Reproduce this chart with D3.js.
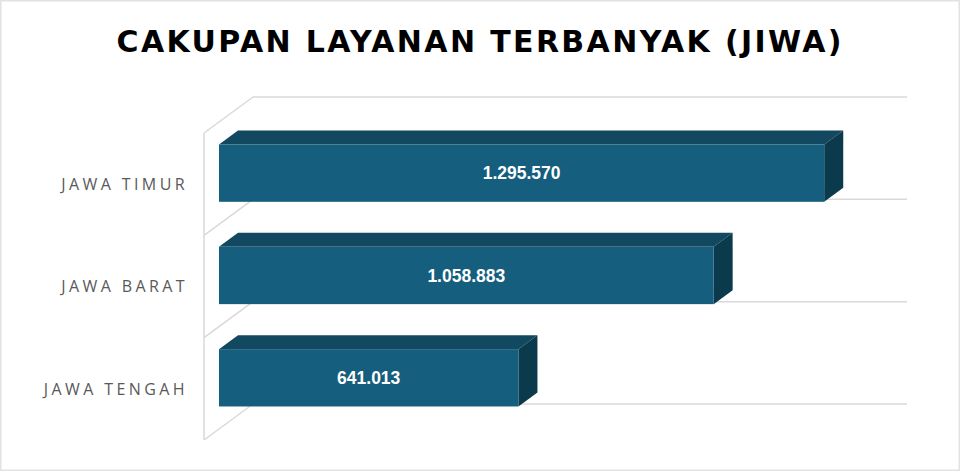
<!DOCTYPE html>
<html lang="id">
<head>
  <meta charset="UTF-8">
  <title>Cakupan Layanan Terbanyak</title>
  <script src="https://d3js.org/d3.v7.min.js"></script>
  <style>
    html, body { margin: 0; padding: 0; background: #fff; }
  </style>
</head>
<body>
  <svg id="chart" width="960" height="471"></svg>

  <script>
    // data
    const provinces = ["JAWA TIMUR", "JAWA BARAT", "JAWA TENGAH"];
    const jiwa = [1295570, 1058883, 641013];
    const valueLabels = ["1.295.570", "1.058.883", "641.013"];
    const titleText = "CAKUPAN LAYANAN TERBANYAK (JIWA)";

    const svg = d3.select("#chart");

    // frame round the picture
    svg.append("rect")
      .attr("x", 0.75).attr("y", 0.75)
      .attr("width", 958.5).attr("height", 469.5)
      .attr("fill", "#fff")
      .attr("stroke", "#e2e2e2")
      .attr("stroke-width", 1.5);

    // 3d box: front plane origin, depth offset
    const ox = 204, oy = 133;
    const depthX = 49, depthY = -36;
    const zFront = 0.306, zBack = 0.694;

    const x = d3.scaleLinear().domain([0, 1400000]).range([0, 654]);
    const y = d3.scaleBand().domain(provinces).range([0, 307])
      .paddingInner(0.44).paddingOuter(0.22);

    const px = (xv, z) => ox + xv + z * depthX;
    const py = (yv, z) => oy + yv + z * depthY;

    const grid = svg.append("g")
      .attr("fill", "none")
      .attr("stroke", "#d9d9d9")
      .attr("stroke-width", 1.5);

    const bounds = d3.range(provinces.length + 1).map(i => i * y.step());

    // back wall lines
    grid.selectAll(".back").data(bounds).join("line")
      .attr("x1", px(0, 1)).attr("x2", px(x(1400000), 1))
      .attr("y1", d => py(d, 1)).attr("y2", d => py(d, 1));

    // side wall diagonals
    grid.selectAll(".side").data(bounds).join("line")
      .attr("x1", px(0, 0)).attr("x2", px(0, 1))
      .attr("y1", d => py(d, 0)).attr("y2", d => py(d, 1));

    // front edge of side wall
    grid.append("line")
      .attr("x1", px(0, 0)).attr("x2", px(0, 0))
      .attr("y1", py(0, 0)).attr("y2", py(bounds[bounds.length - 1], 0));

    // bars
    const bars = svg.selectAll(".bar")
      .data(provinces.map((p, i) => ({ p, v: jiwa[i], label: valueLabels[i] })))
      .join("g");

    // top face
    bars.append("path")
      .attr("fill", "#124860")
      .attr("d", d => {
        const y0 = y(d.p), w = x(d.v);
        return "M" + px(0, zFront) + "," + py(y0, zFront) +
          "L" + px(0, zBack) + "," + py(y0, zBack) +
          "L" + px(w, zBack) + "," + py(y0, zBack) +
          "L" + px(w, zFront) + "," + py(y0, zFront) + "Z";
      });

    // side face
    bars.append("path")
      .attr("fill", "#0c3a4d")
      .attr("d", d => {
        const y0 = y(d.p), y1 = y0 + y.bandwidth(), w = x(d.v);
        return "M" + px(w, zFront) + "," + py(y0, zFront) +
          "L" + px(w, zBack) + "," + py(y0, zBack) +
          "L" + px(w, zBack) + "," + py(y1, zBack) +
          "L" + px(w, zFront) + "," + py(y1, zFront) + "Z";
      });

    // front face
    bars.append("rect")
      .attr("fill", "#155e7d")
      .attr("x", px(0, zFront))
      .attr("y", d => py(y(d.p), zFront))
      .attr("width", d => x(d.v))
      .attr("height", y.bandwidth());

    bars.append("text")
      .attr("x", d => px(x(d.v) / 2, zFront))
      .attr("y", d => py(y(d.p) + y.bandwidth() / 2, zFront))
      .attr("dy", "0.36em")
      .attr("text-anchor", "middle")
      .attr("fill", "#fff")
      .attr("font-family", "'Liberation Sans', Arial, sans-serif")
      .attr("font-weight", "bold")
      .attr("font-size", "17.5px")
      .text(d => d.label);

    // category labels
    svg.selectAll(".cat").data(provinces).join("text")
      .attr("x", 188)
      .attr("y", d => py(y(d) + y.bandwidth() / 2, 0))
      .attr("dy", "0.36em")
      .attr("text-anchor", "end")
      .attr("fill", "#595959")
      .attr("font-family", "'Open Sans', sans-serif")
      .attr("font-size", "16px")
      .attr("letter-spacing", "3.4px")
      .text(d => d);

    // title
    svg.append("text")
      .attr("x", 479)
      .attr("y", 52)
      .attr("text-anchor", "middle")
      .attr("fill", "#000")
      .attr("font-family", "'DejaVu Sans', sans-serif")
      .attr("font-weight", "bold")
      .attr("font-size", "30px")
      .attr("textLength", 725)
      .attr("lengthAdjust", "spacing")
      .text(titleText);
  </script>
</body>
</html>
